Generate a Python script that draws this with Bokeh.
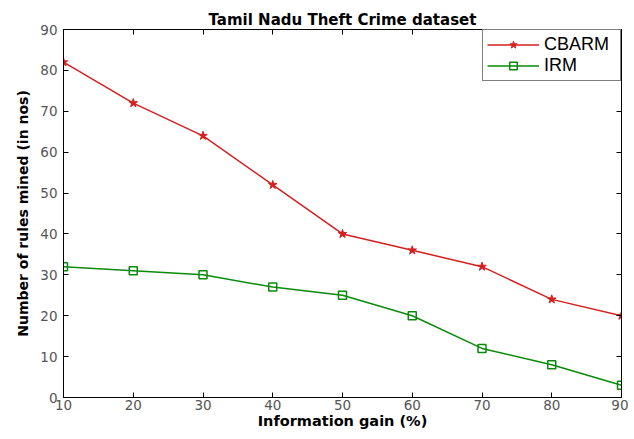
from bokeh.plotting import figure
from bokeh.models import LinearAxis, FixedTicker, Range1d, CustomJSTickFormatter
from bokeh.embed import file_html
from bokeh.resources import INLINE

info_gain = [10, 20, 30, 40, 50, 60, 70, 80, 90]
cbarm = [82, 72, 64, 52, 40, 36, 32, 24, 20]
irm = [32, 31, 30, 27, 25, 20, 12, 8, 3]
x_ticks = [10, 20, 30, 40, 50, 60, 70, 80, 90]
y_ticks = [0, 10, 20, 30, 40, 50, 60, 70, 80, 90]

RED = "#d42020"
GREEN = "#0a8a0a"
TICK_FONT = "DejaVu Sans"
LEG_FONT = "Liberation Sans"

p = figure(width=628, height=431, output_backend="svg", toolbar_location=None,
           x_range=Range1d(10, 90), y_range=Range1d(0, 90),
           min_border_left=63, min_border_right=7, min_border_top=29, min_border_bottom=30)

p.title.text = "Tamil Nadu Theft Crime dataset"
p.title.align = "center"
p.title.text_font = "DejaVu Sans"
p.title.text_font_size = "15px"
p.title.text_font_style = "bold"
p.title.text_color = "black"
p.title.offset = -10
p.title.standoff = 2

p.grid.visible = False
p.outline_line_color = "black"
p.outline_line_width = 1

for ax in (p.xaxis[0], p.yaxis[0]):
    ax.major_tick_in = 5
    ax.major_tick_out = 0
    ax.minor_tick_line_color = None
    ax.axis_line_color = "black"
    ax.major_tick_line_color = "black"
    ax.major_label_text_font = TICK_FONT
    ax.major_label_text_font_size = "13.5px"
    ax.major_label_text_color = "#555555"
    ax.axis_label_text_font = "DejaVu Sans"
    ax.axis_label_text_font_style = "bold"
    ax.axis_label_text_color = "black"

p.xaxis[0].axis_label_text_font_size = "14.5px"
p.yaxis[0].axis_label_text_font_size = "14px"
p.xaxis[0].ticker = FixedTicker(ticks=x_ticks)
p.yaxis[0].ticker = FixedTicker(ticks=y_ticks)
p.xaxis[0].axis_label = "Information gain (%)"
p.yaxis[0].axis_label = "Number of rules mined (in nos)"
p.xaxis[0].major_label_standoff = 2
p.xaxis[0].axis_label_standoff = 0
p.yaxis[0].major_label_standoff = 6
p.yaxis[0].axis_label_standoff = 6

blank = CustomJSTickFormatter(code="return ''")
top = LinearAxis(ticker=FixedTicker(ticks=x_ticks), major_tick_in=5, major_tick_out=0,
                 minor_tick_line_color=None, formatter=blank, major_label_standoff=0)
right = LinearAxis(ticker=FixedTicker(ticks=y_ticks), major_tick_in=5, major_tick_out=0,
                   minor_tick_line_color=None, formatter=blank, major_label_standoff=0)
p.add_layout(top, "above")
p.add_layout(right, "right")

p.line(info_gain, cbarm, line_color=RED, line_width=1.5, legend_label="CBARM")
p.scatter(info_gain, cbarm, marker="star", size=9, fill_color=RED, line_color=RED,
          legend_label="CBARM")
p.line(info_gain, irm, line_color=GREEN, line_width=1.5, legend_label="IRM")
p.scatter(info_gain, irm, marker="square", size=8, fill_color=None, line_color=GREEN,
          line_width=1.5, legend_label="IRM")

lg = p.legend[0]
lg.location = "top_right"
lg.margin = 0
lg.padding = 4
lg.spacing = 0
lg.glyph_width = 52
lg.glyph_height = 19
lg.label_height = 19
lg.label_width = 72
lg.label_text_font = LEG_FONT
lg.label_text_font_size = "18px"
lg.label_text_color = "black"
lg.border_line_color = "black"
lg.border_line_width = 1
lg.background_fill_color = "white"
lg.background_fill_alpha = 1
lg.label_standoff = 5

open("out.html", "w").write(file_html(p, INLINE))
